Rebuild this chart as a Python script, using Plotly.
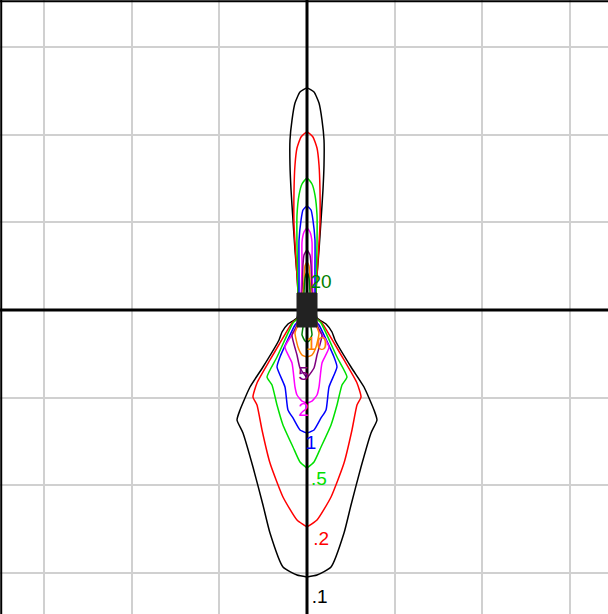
import plotly.graph_objects as go

# Contour levels, colours and label text
levels = [".1", ".2", ".5", "1", "2", "5", "10", "20"]
colors = ["#000000", "#ff0000", "#00e000", "#0000ff", "#ff00ff", "#800080", "#ff8000", "#008000"]

# Left half of each contour, upper lobe (top → near origin)
upper_x = [
    [0, -0.080, -0.137, -0.171, -0.194, -0.194, -0.182, -0.160, -0.137, -0.114, -0.103],
    [0, -0.068, -0.114, -0.137, -0.148, -0.148, -0.125, -0.103],
    [0, -0.057, -0.091, -0.114, -0.114, -0.103],
    [0, -0.046, -0.068, -0.091, -0.091, -0.091],
    [0, -0.034, -0.057, -0.057, -0.068],
    [0, -0.034, -0.046, -0.057],
    [0, -0.023, -0.034, -0.046],
    [0, -0.023, -0.034],
]
upper_y = [
    [2.531, 2.486, 2.360, 2.166, 1.938, 1.653, 1.368, 1.026, 0.684, 0.399, 0.194],
    [2.030, 1.973, 1.847, 1.653, 1.368, 0.969, 0.570, 0.194],
    [1.505, 1.437, 1.311, 1.083, 0.741, 0.194],
    [1.186, 1.140, 1.026, 0.798, 0.456, 0.194],
    [0.935, 0.889, 0.775, 0.513, 0.194],
    [0.684, 0.627, 0.513, 0.194],
    [0.547, 0.502, 0.342, 0.194],
    [0.433, 0.365, 0.194],
]
# Left half of each contour, lower lobe (near origin → bottom)
lower_x = [
    [-0.114, -0.217, -0.285, -0.319, -0.502, -0.650, -0.764, -0.798, -0.730, -0.616, -0.502, -0.422, -0.274, -0.114, 0],
    [-0.103, -0.171, -0.308, -0.422, -0.570, -0.616, -0.570, -0.513, -0.422, -0.274, -0.114, 0],
    [-0.103, -0.160, -0.342, -0.456, -0.399, -0.342, -0.274, -0.160, -0.080, 0],
    [-0.091, -0.137, -0.308, -0.342, -0.251, -0.217, -0.160, -0.080, 0],
    [-0.103, -0.251, -0.171, -0.137, -0.114, -0.057, 0],
    [-0.125, -0.171, -0.114, -0.080, 0],
    [-0.114, -0.137, -0.103, -0.057, 0],
    [-0.046, -0.057, -0.023, 0],
]
lower_y = [
    [-0.091, -0.160, -0.251, -0.342, -0.650, -0.878, -1.140, -1.254, -1.402, -1.790, -2.223, -2.543, -2.930, -3.022, -3.044],
    [-0.091, -0.148, -0.376, -0.570, -0.832, -0.992, -1.083, -1.368, -1.745, -2.132, -2.395, -2.474],
    [-0.091, -0.148, -0.536, -0.764, -0.855, -1.083, -1.311, -1.562, -1.733, -1.802],
    [-0.114, -0.171, -0.536, -0.650, -0.878, -1.140, -1.231, -1.368, -1.402],
    [-0.171, -0.422, -0.604, -0.878, -0.969, -1.038, -1.060],
    [-0.194, -0.285, -0.513, -0.661, -0.775],
    [-0.194, -0.262, -0.422, -0.513, -0.536],
    [-0.194, -0.285, -0.353, -0.365],
]
# Label positions for each level
label_x = [0.055, 0.070, 0.045, -0.015, -0.100, -0.100, -0.010, 0.040]
label_y = [-3.284, -2.623, -1.938, -1.528, -1.150, -0.741, -0.399, 0.308]

# Central body (half-width, half-height)
body_half = [0.114, 0.194]

grid_vals = [-3, -2, -1, 0, 1, 2, 3]

fig = go.Figure()

for i, lev in enumerate(levels):
    lx = upper_x[i] + lower_x[i]
    ly = upper_y[i] + lower_y[i]
    rx = [-v for v in reversed(lx)]
    ry = list(reversed(ly))
    fig.add_trace(go.Scatter(
        x=lx + rx, y=ly + ry, mode="lines",
        line=dict(color=colors[i], width=1.5, shape="spline", smoothing=0.5),
        hoverinfo="skip", showlegend=False,
    ))

# axis lines
fig.add_trace(go.Scatter(x=[-4, 4], y=[0, 0], mode="lines",
                         line=dict(color="black", width=3), showlegend=False, hoverinfo="skip"))
fig.add_trace(go.Scatter(x=[0, 0], y=[-4, 4], mode="lines",
                         line=dict(color="black", width=3), showlegend=False, hoverinfo="skip"))

# central body
bw, bh = body_half
fig.add_trace(go.Scatter(
    x=[-bw, bw, bw, -bw, -bw], y=[-bh, -bh, bh, bh, -bh],
    mode="lines", fill="toself", fillcolor="#222222",
    line=dict(color="#222222", width=1), showlegend=False, hoverinfo="skip"))

# labels
fig.add_trace(go.Scatter(
    x=label_x, y=label_y, mode="text", text=levels,
    textfont=dict(family="Liberation Sans, Arial", size=19, color=colors),
    textposition="middle right", showlegend=False, hoverinfo="skip"))

px = 87.7
fig.update_layout(
    width=608, height=614,
    margin=dict(l=0, r=0, t=0, b=0),
    paper_bgcolor="white", plot_bgcolor="white",
    xaxis=dict(range=[-307 / px, (608 - 307) / px], tickvals=grid_vals,
               showticklabels=False, showgrid=True, gridcolor="#d0d0d0", gridwidth=2,
               zeroline=False, fixedrange=True),
    yaxis=dict(range=[(310 - 614) / px, 310 / px], tickvals=grid_vals,
               showticklabels=False, showgrid=True, gridcolor="#d0d0d0", gridwidth=2,
               zeroline=False, fixedrange=True),
    shapes=[
        dict(type="line", xref="paper", yref="paper", x0=0, x1=1, y0=0.998, y1=0.998,
             line=dict(color="black", width=2)),
        dict(type="line", xref="paper", yref="paper", x0=0.002, x1=0.002, y0=0, y1=1,
             line=dict(color="black", width=2)),
    ],
)

fig.write_html("out.html", config={"displayModeBar": False},
               post_script="document.body.style.margin='0';document.body.style.overflow='hidden';")
